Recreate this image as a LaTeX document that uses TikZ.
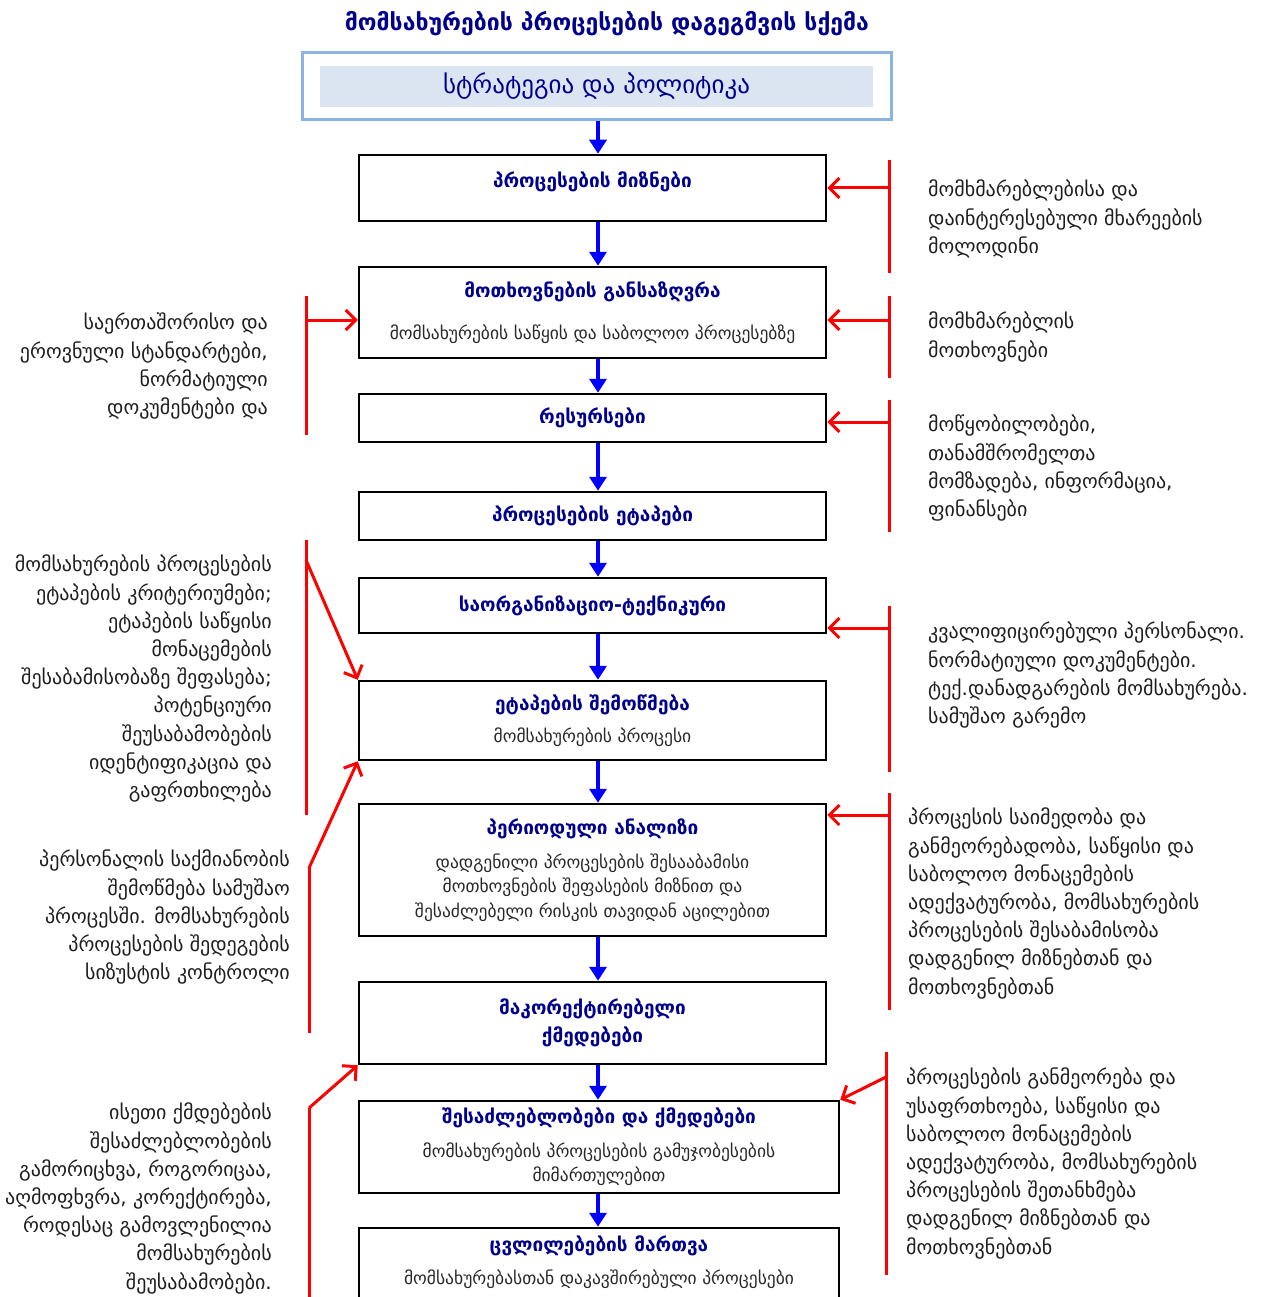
\documentclass[tikz,border=0pt]{standalone}
\usepackage{fontspec}
\setmainfont{DejaVu Sans}
\usetikzlibrary{arrows.meta}
\definecolor{navy}{RGB}{0,0,140}
\definecolor{subgray}{RGB}{40,40,40}
\definecolor{sidegray}{RGB}{30,30,30}
\definecolor{stratborder}{RGB}{141,179,226}
\definecolor{stratfill}{RGB}{219,229,241}
\definecolor{aBlue}{RGB}{0,0,255}
\definecolor{aRed}{RGB}{255,0,0}
\newcommand{\bxt}[1]{{\color{navy}\bfseries\fontsize{19}{24}\selectfont #1}}
\begin{document}
\begin{tikzpicture}[x=1pt,y=-1pt,
  box/.style={draw=black,line width=2.5pt,minimum width=467pt,align=center,inner sep=0pt,
    font=\fontsize{17.5}{24.5}\selectfont,text=subgray},
  widebox/.style={box,minimum width=480pt},
  sidetext/.style={inner sep=0pt,font=\fontsize{20}{28.2}\selectfont,text=sidegray},
  bluearrow/.style={draw=aBlue,line width=3.5pt,-{Triangle[length=14pt,width=17pt]}},
  redline/.style={draw=aRed,line width=3pt},
  redarrow/.style={redline,-{Straight Barb[length=10pt,width=20pt]}}]
\useasboundingbox (0,0) rectangle (1264,1297);
\clip (0,0) rectangle (1264,1297);
% title
\node[font=\bfseries\fontsize{23}{26}\selectfont,text=navy] (title) at (607,24) {მომსახურების პროცესების დაგეგმვის სქემა};
% strategy
\node[draw=stratborder,line width=3pt,minimum width=589pt,minimum height=67pt,inner sep=0pt] (strat) at (596.5,86.5) {};
\node[fill=stratfill,minimum width=553pt,minimum height=41pt,inner sep=0pt,text=navy,font=\fontsize{25}{28}\selectfont] (stratin) at (596.5,86.5) {სტრატეგია და პოლიტიკა};
% boxes
\node[box,minimum height=66pt] (b1) at (592.5,188) {\raisebox{6pt}[\height][\depth]{\bxt{პროცესების მიზნები}}};
\node[box,minimum height=91pt] (b2) at (592.5,312.5) {\bxt{მოთხოვნების განსაზღვრა}\\[17pt]მომსახურების საწყის და საბოლოო პროცესებზე};
\node[box,minimum height=48pt] (b3) at (592.5,418) {\bxt{რესურსები}};
\node[box,minimum height=48pt] (b4) at (592.5,516) {\bxt{პროცესების ეტაპები}};
\node[box,minimum height=55pt] (b5) at (592.5,605.5) {\bxt{საორგანიზაციო-ტექნიკური}};
\node[box,minimum height=79pt] (b6) at (592.5,720.5) {\bxt{ეტაპების შემოწმება}\\[8pt]მომსახურების პროცესი};
\node[box,minimum height=132pt] (b7) at (592.5,870) {\bxt{პერიოდული ანალიზი}\\[9pt]დადგენილი პროცესების შესააბამისი\\მოთხოვნების შეფასების მიზნით და\\შესაძლებელი რისკის თავიდან აცილებით};
\node[box,minimum height=82pt] (b8) at (592.5,1023) {\bxt{მაკორექტირებელი}\\[3pt]\bxt{ქმედებები}};
\node[widebox,minimum height=92pt] (b9) at (599,1147) {\bxt{შესაძლებლობები და ქმედებები}\\[9pt]მომსახურების პროცესების გამუჯობესების\\მიმართულებით};
\node[widebox,minimum height=110pt] (b10) at (599,1283) {};
\node[align=center,inner sep=0pt,font=\fontsize{17.5}{24.5}\selectfont,text=subgray] (b10t) at (599,1262) {\bxt{ცვლილებების მართვა}\\[8pt]მომსახურებასთან დაკავშირებული პროცესები};
% blue arrows
\coordinate (ax) at (598,0);
\draw[bluearrow] (strat.south -| ax) -- (b1.north -| ax);
\draw[bluearrow] (b1.south -| ax) -- (b2.north -| ax);
\draw[bluearrow] (b2.south -| ax) -- (b3.north -| ax);
\draw[bluearrow] (b3.south -| ax) -- (b4.north -| ax);
\draw[bluearrow] (b4.south -| ax) -- (b5.north -| ax);
\draw[bluearrow] (b5.south -| ax) -- (b6.north -| ax);
\draw[bluearrow] (b6.south -| ax) -- (b7.north -| ax);
\draw[bluearrow] (b7.south -| ax) -- (b8.north -| ax);
\draw[bluearrow] (b8.south -| ax) -- (b9.north -| ax);
\draw[bluearrow] (b9.south -| ax) -- (b10.north -| ax);
% right side texts
\node[sidetext,anchor=north west,align=left] (r1) at (928,180) {მომხმარებლებისა და\\დაინტერესებული მხარეების\\მოლოდინი};
\node[sidetext,anchor=north west,align=left] (r2) at (928,312) {მომხმარებლის\\მოთხოვნები};
\node[sidetext,anchor=north west,align=left] (r3) at (928,415) {მოწყობილობები,\\თანამშრომელთა\\მომზადება, ინფორმაცია,\\ფინანსები};
\node[sidetext,anchor=north west,align=left] (r4) at (928,622) {კვალიფიცირებული პერსონალი.\\ნორმატიული დოკუმენტები.\\ტექ.დანადგარების მომსახურება.\\სამუშაო გარემო};
\node[sidetext,anchor=north west,align=left] (r5) at (908,808) {პროცესის საიმედობა და\\განმეორებადობა, საწყისი და\\საბოლოო მონაცემების\\ადექვატურობა, მომსახურების\\პროცესების შესაბამისობა\\დადგენილ მიზნებთან და\\მოთხოვნებთან};
\node[sidetext,anchor=north west,align=left] (r6) at (906,1068) {პროცესების განმეორება და\\უსაფრთხოება, საწყისი და\\საბოლოო მონაცემების\\ადექვატურობა, მომსახურების\\პროცესების შეთანხმება\\დადგენილ მიზნებთან და\\მოთხოვნებთან};
% left side texts
\node[sidetext,anchor=north east,align=right] (l1) at (268,313) {საერთაშორისო და\\ეროვნული სტანდარტები,\\ნორმატიული\\დოკუმენტები და};
\node[sidetext,anchor=north east,align=right] (l2) at (272,555) {მომსახურების პროცესების\\ეტაპების კრიტერიუმები;\\ეტაპების საწყისი\\მონაცემების\\შესაბამისობაზე შეფასება;\\პოტენციური\\შეუსაბამობების\\იდენტიფიკაცია და\\გაფრთხილება};
\node[sidetext,anchor=north east,align=right] (l3) at (290,850) {პერსონალის საქმიანობის\\შემოწმება სამუშაო\\პროცესში. მომსახურების\\პროცესების შედეგების\\სიზუსტის კონტროლი};
\node[sidetext,anchor=north east,align=right] (l4) at (272,1103) {ისეთი ქმდებების\\შესაძლებლობების\\გამორიცხვა, როგორიცაა,\\აღმოფხვრა, კორექტირება,\\როდესაც გამოვლენილია\\მომსახურების\\შეუსაბამობები.};
% right red brackets
\coordinate (r1t) at (889,160); \coordinate (r1b) at (889,273); \coordinate (r1a) at (889,188);
\draw[redline] (r1t) -- (r1b); \draw[redarrow] (r1a) -- (r1a -| b1.east);
\coordinate (r2t) at (889,296); \coordinate (r2b) at (889,378); \coordinate (r2a) at (889,320);
\draw[redline] (r2t) -- (r2b); \draw[redarrow] (r2a) -- (r2a -| b2.east);
\coordinate (r3t) at (889,400); \coordinate (r3b) at (889,532); \coordinate (r3a) at (889,422);
\draw[redline] (r3t) -- (r3b); \draw[redarrow] (r3a) -- (r3a -| b3.east);
\coordinate (r4t) at (889,606); \coordinate (r4b) at (889,772); \coordinate (r4a) at (889,628);
\draw[redline] (r4t) -- (r4b); \draw[redarrow] (r4a) -- (r4a -| b5.east);
\coordinate (r5t) at (889,793); \coordinate (r5b) at (889,1010); \coordinate (r5a) at (889,815);
\draw[redline] (r5t) -- (r5b); \draw[redarrow] (r5a) -- (r5a -| b7.east);
\coordinate (r6t) at (886,1052); \coordinate (r6b) at (886,1275); \coordinate (r6a) at (886,1077);
\draw[redline] (r6t) -- (r6b); \draw[redarrow] (r6a) -- (b9.north east);
% left red brackets
\coordinate (l1t) at (306,296); \coordinate (l1b) at (306,435); \coordinate (l1a) at (306,320);
\draw[redline] (l1t) -- (l1b); \draw[redarrow] (l1a) -- (l1a -| b2.west);
\coordinate (l2t) at (306,540); \coordinate (l2b) at (306,815); \coordinate (l2a) at (306,560);
\draw[redline] (l2t) -- (l2b); \draw[redarrow] (l2a) -- (b6.north west);
\coordinate (l3t) at (309,868); \coordinate (l3b) at (309,1033);
\draw[redline] (l3t) -- (l3b); \draw[redarrow] (l3t) -- (b6.south west);
\coordinate (l4t) at (309,1108); \coordinate (l4b) at (309,1300);
\draw[redline] (l4t) -- (l4b); \draw[redarrow] (l4t) -- (b8.south west);
\end{tikzpicture}
\end{document}
